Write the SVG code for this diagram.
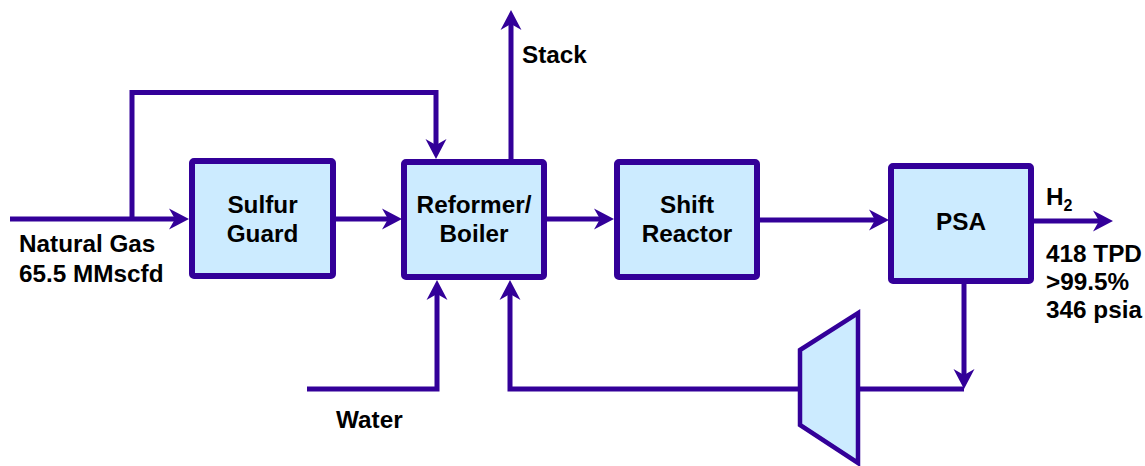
<svg xmlns="http://www.w3.org/2000/svg" width="1145" height="466" viewBox="0 0 1145 466">
<style>
.box{fill:#CCEBFF;stroke:#330099;stroke-width:6;stroke-linejoin:round}
.ln{fill:none;stroke:#330099;stroke-width:5;stroke-linejoin:miter;stroke-linecap:butt}
.t{font-family:"Liberation Sans",Arial,sans-serif;font-weight:bold;font-size:24.3px;fill:#000}
.c{text-anchor:middle}
</style>
<defs>
<marker id="arr" markerUnits="userSpaceOnUse" markerWidth="24" markerHeight="24" viewBox="0 0 24 24" refX="10" refY="12" orient="auto">
<path d="M2,1.5 L22,12 L2,22.5 L8,12 Z" fill="#330099"/>
</marker>
</defs>
<rect width="1145" height="466" fill="#fff"/>
<g id="connectors">
<path class="ln" d="M10,219 H177" marker-end="url(#arr)"/>
<path class="ln" d="M132,219 V92.5 H436 V147" marker-end="url(#arr)"/>
<path class="ln" d="M333,219 H390" marker-end="url(#arr)"/>
<path class="ln" d="M544,219 H602" marker-end="url(#arr)"/>
<path class="ln" d="M757,220 H877" marker-end="url(#arr)"/>
<path class="ln" d="M1031,221 H1101" marker-end="url(#arr)"/>
<path class="ln" d="M511,162 V22" marker-end="url(#arr)"/>
<path class="ln" d="M307,389 H437 V292" marker-end="url(#arr)"/>
<path class="ln" d="M964,281 V377" marker-end="url(#arr)"/>
<path class="ln" d="M964,389 H510 V292" marker-end="url(#arr)"/>
</g>
<g id="compressor">
<polygon points="800,350 858,313 858,463 800,425" fill="#CCEBFF" stroke="#330099" stroke-width="4.5" stroke-linejoin="miter"/>
</g>
<g id="sulfur-guard">
<rect class="box" x="192" y="161" width="141" height="115" rx="2"/>
<text class="t c" x="262.5" y="213">Sulfur</text>
<text class="t c" x="262.5" y="242">Guard</text>
</g>
<g id="reformer">
<rect class="box" x="404" y="162" width="140" height="115" rx="2"/>
<text class="t c" x="474" y="213">Reformer/</text>
<text class="t c" x="474" y="242">Boiler</text>
</g>
<g id="shift-reactor">
<rect class="box" x="617" y="162" width="140" height="115" rx="2"/>
<text class="t c" x="687" y="213">Shift</text>
<text class="t c" x="687" y="242">Reactor</text>
</g>
<g id="psa">
<rect class="box" x="891" y="166" width="140" height="115" rx="2"/>
<text class="t c" x="961" y="230">PSA</text>
</g>
<g id="labels">
<text class="t" x="522" y="63">Stack</text>
<text class="t" x="19" y="252">Natural Gas</text>
<text class="t" x="19" y="282">65.5 MMscfd</text>
<text class="t" x="336" y="428">Water</text>
<text class="t" x="1046" y="205">H<tspan font-size="16" dy="6">2</tspan></text>
<text class="t" x="1046" y="262">418 TPD</text>
<text class="t" x="1046" y="290">&gt;99.5%</text>
<text class="t" x="1046" y="318">346 psia</text>
</g>
</svg>
